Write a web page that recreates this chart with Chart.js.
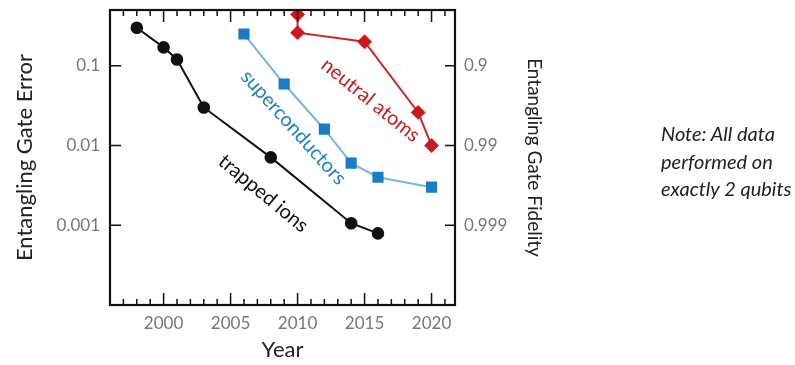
<!DOCTYPE html>
<html lang="en">
<head>
<meta charset="UTF-8">
<title>Entangling Gate Error by Year</title>
<script src="https://cdn.jsdelivr.net/npm/chart.js"></script>
<style>
  body { margin: 0; background: #fff; }
  #wrap { position: relative; width: 795px; height: 365px; }
  #note { position: absolute; left: 661px; top: 120px; font-family: Lato, sans-serif; font-style: italic; font-size: 20px; line-height: 27.5px; color: #222; }
</style>
</head>
<body>
<div id="wrap">
  <canvas id="chart" width="795" height="365"></canvas>
  <div id="note">Note: All data<br>performed on<br>exactly 2 qubits</div>
</div>
<script>
// Data (x = year, y = gate error)
const ionYears = [1998, 2000, 2001, 2003, 2008, 2014, 2016];
const ionErrors = [0.30, 0.17, 0.12, 0.030, 0.0071, 0.00106, 0.00079];

const scYears = [2006, 2009, 2012, 2014, 2016, 2020];
const scErrors = [0.25, 0.059, 0.016, 0.0060, 0.0040, 0.0030];

const atomYears = [2010, 2010, 2015, 2019, 2020];
const atomErrors = [0.44, 0.26, 0.20, 0.026, 0.010];

const yearTicks = [2000, 2005, 2010, 2015, 2020];
const errorTicks = [0.1, 0.01, 0.001];
const errorTickLabels = ["0.1", "0.01", "0.001"];
const fidelityTickLabels = ["0.9", "0.99", "0.999"];

const toPoints = (xs, ys) => xs.map((x, i) => ({ x: x, y: ys[i] }));

const FONT = "Lato, 'Open Sans', sans-serif";

// Frame and inward tick marks
const framePlugin = {
  id: "frame",
  afterDraw(chart) {
    const { ctx, chartArea: a, scales } = chart;
    ctx.save();
    ctx.strokeStyle = "#111";
    ctx.lineWidth = 1.5;
    ctx.beginPath();
    for (let yr = 1997; yr <= 2021; yr++) {
      const px = scales.x.getPixelForValue(yr);
      const len = yr % 5 === 0 ? 12 : 6;
      ctx.moveTo(px, a.bottom);
      ctx.lineTo(px, a.bottom - len);
      ctx.moveTo(px, a.top);
      ctx.lineTo(px, a.top + len);
    }
    errorTicks.forEach((v) => {
      const py = scales.y.getPixelForValue(v);
      ctx.moveTo(a.left, py);
      ctx.lineTo(a.left + 11, py);
      ctx.moveTo(a.right, py);
      ctx.lineTo(a.right - 10, py);
    });
    ctx.stroke();
    ctx.lineWidth = 2.2;
    ctx.strokeRect(a.left, a.top, a.right - a.left, a.bottom - a.top);
    ctx.restore();
  },
};

// Rotated series labels, anchored in data coordinates
const seriesLabels = [
  { text: "trapped ions", x: 2007.45, y: 0.0025, angle: 39.6, color: "#111" },
  { text: "superconductors", x: 2009.7, y: 0.0168, angle: 48, color: "#1f80c8" },
  { text: "neutral atoms", x: 2015.45, y: 0.037, angle: 39, color: "#c21d1d" },
];

const labelPlugin = {
  id: "seriesLabels",
  afterDatasetsDraw(chart) {
    const { ctx, scales } = chart;
    ctx.save();
    ctx.font = "20px " + FONT;
    ctx.textAlign = "center";
    ctx.textBaseline = "middle";
    seriesLabels.forEach((l) => {
      ctx.save();
      ctx.translate(scales.x.getPixelForValue(l.x), scales.y.getPixelForValue(l.y));
      ctx.rotate((l.angle * Math.PI) / 180);
      ctx.fillStyle = l.color;
      ctx.fillText(l.text, 0, 0);
      ctx.restore();
    });
    ctx.restore();
  },
};

const noPad = (s) => { s.paddingTop = 0; s.paddingBottom = 0; s.paddingLeft = 0; s.paddingRight = 0; };

new Chart(document.getElementById("chart"), {
  type: "line",
  data: {
    datasets: [
      {
        label: "trapped ions",
        data: toPoints(ionYears, ionErrors),
        borderColor: "#111",
        backgroundColor: "#111",
        borderWidth: 2,
        pointStyle: "circle",
        pointRadius: 5.3,
        yAxisID: "y",
      },
      {
        label: "superconductors",
        data: toPoints(scYears, scErrors),
        borderColor: "#79b4e2",
        backgroundColor: "#1a7cc6",
        borderWidth: 2,
        pointStyle: "rect",
        pointRadius: 6.5,
        pointBorderColor: "#1a7cc6",
        yAxisID: "y",
      },
      {
        label: "neutral atoms",
        data: toPoints(atomYears, atomErrors),
        borderColor: "#c22a2a",
        backgroundColor: "#cc1a1a",
        borderWidth: 2,
        pointStyle: "rectRot",
        pointRadius: 6,
        pointBorderColor: "#cc1a1a",
        yAxisID: "y",
      },
    ],
  },
  options: {
    responsive: false,
    animation: false,
    layout: { padding: { left: 9, right: 245, top: 10, bottom: 0 } },
    plugins: { legend: { display: false }, tooltip: { enabled: false } },
    scales: {
      x: {
        type: "linear",
        min: 1996,
        max: 2021.75,
        afterBuildTicks: (s) => { s.ticks = yearTicks.map((v) => ({ value: v })); },
        afterFit: (s) => { s.height = 60; noPad(s); },
        grid: { display: false, drawTicks: false },
        border: { display: false },
        ticks: { color: "#777", font: { family: FONT, size: 17 }, padding: 8, callback: (v) => String(v) },
        title: { display: true, text: "Year", color: "#222", font: { family: FONT, size: 22 }, padding: { top: 2, bottom: 2 } },
      },
      y: {
        type: "logarithmic",
        position: "left",
        min: 0.0001,
        max: 0.5,
        afterBuildTicks: (s) => { s.ticks = errorTicks.map((v) => ({ value: v })); },
        afterFit: (s) => { s.width = 101; noPad(s); },
        grid: { display: false, drawTicks: false },
        border: { display: false },
        ticks: { color: "#777", font: { family: FONT, size: 17 }, padding: 10,
          callback: (v) => errorTickLabels[errorTicks.indexOf(v)] },
        title: { display: true, text: "Entangling Gate Error", color: "#222", font: { family: FONT, size: 22 }, padding: 3 },
      },
      y2: {
        type: "logarithmic",
        position: "right",
        min: 0.0001,
        max: 0.5,
        afterBuildTicks: (s) => { s.ticks = errorTicks.map((v) => ({ value: v })); },
        afterFit: (s) => { s.width = 95; noPad(s); },
        grid: { display: false, drawTicks: false },
        border: { display: false },
        ticks: { color: "#777", font: { family: FONT, size: 17 }, padding: 9,
          callback: (v) => fidelityTickLabels[errorTicks.indexOf(v)] },
        title: { display: true, text: "Entangling Gate Fidelity", color: "#222", font: { family: FONT, size: 19 }, padding: 4 },
      },
    },
  },
  plugins: [framePlugin, labelPlugin],
});
</script>
</body>
</html>
